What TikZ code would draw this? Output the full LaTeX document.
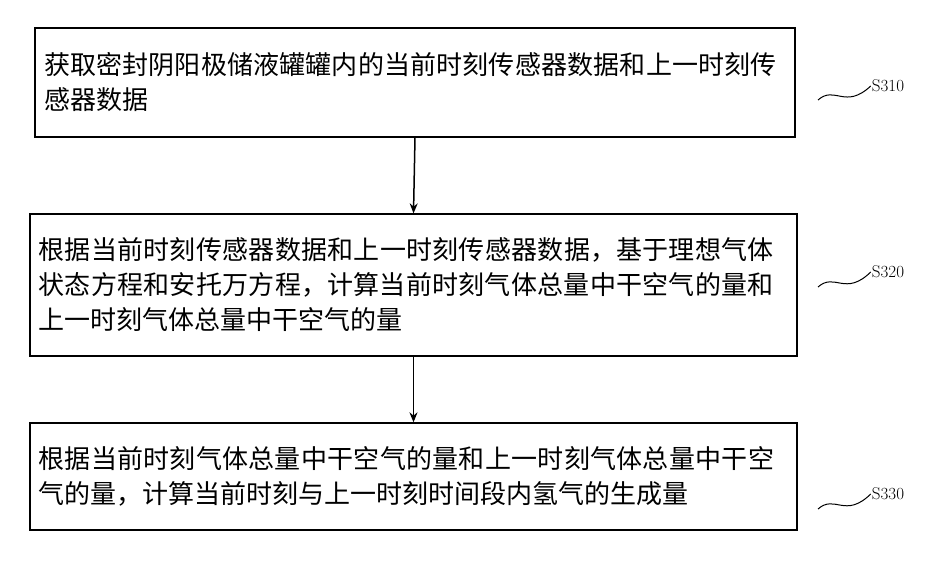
\documentclass[tikz,border=0pt]{standalone}
\usepackage{fontspec}
\usetikzlibrary{arrows.meta}
\newfontfamily\cjk{Noto Sans CJK SC}
\XeTeXlinebreaklocale "zh"
\XeTeXlinebreakskip=0pt plus 1pt
\begin{document}
\begin{tikzpicture}[x=1pt,y=-1pt]
  \useasboundingbox (0,0) rectangle (927,560);
  \begin{scope}[every node/.style={draw,line width=1.3pt,inner sep=0pt,align=left,
      font=\cjk\fontsize{26}{35}\selectfont}]
    \node[minimum width=760,minimum height=109,text width=742] (s310) at (415,82.5)
      {获取密封阴阳极储液罐罐内的当前时刻传感器数据和上一时刻传感器数据};
    \node[minimum width=767,minimum height=142,text width=750] (s320) at (413.5,285)
      {根据当前时刻传感器数据和上一时刻传感器数据，基于理想气体状态方程和安托万方程，计算当前时刻气体总量中干空气的量和上一时刻气体总量中干空气的量};
    \node[minimum width=767,minimum height=107,text width=750] (s330) at (413.5,476.5)
      {根据当前时刻气体总量中干空气的量和上一时刻气体总量中干空气的量，计算当前时刻与上一时刻时间段内氢气的生成量};
  \end{scope}
  \begin{scope}[every edge/.style={draw,line width=1.5pt,-{Stealth[length=10pt,width=8pt]}}]
    \path (s310.south) edge (s320.north);
    \path (s320.south) edge (s330.north);
  \end{scope}
  \begin{scope}[every node/.style={font=\fontsize{17}{20}\selectfont,inner sep=1pt}]
    \node (l310) at (888,86) {S310};
    \node (l320) at (888,272) {S320};
    \node (l330) at (888,494) {S330};
  \end{scope}
  \begin{scope}[line width=1pt]
    \draw (818,100) .. controls (835,85) and (845,110) .. (l310.west);
    \draw (818,287) .. controls (835,272) and (845,297) .. (l320.west);
    \draw (818,509) .. controls (835,494) and (845,519) .. (l330.west);
  \end{scope}
\end{tikzpicture}
\end{document}
